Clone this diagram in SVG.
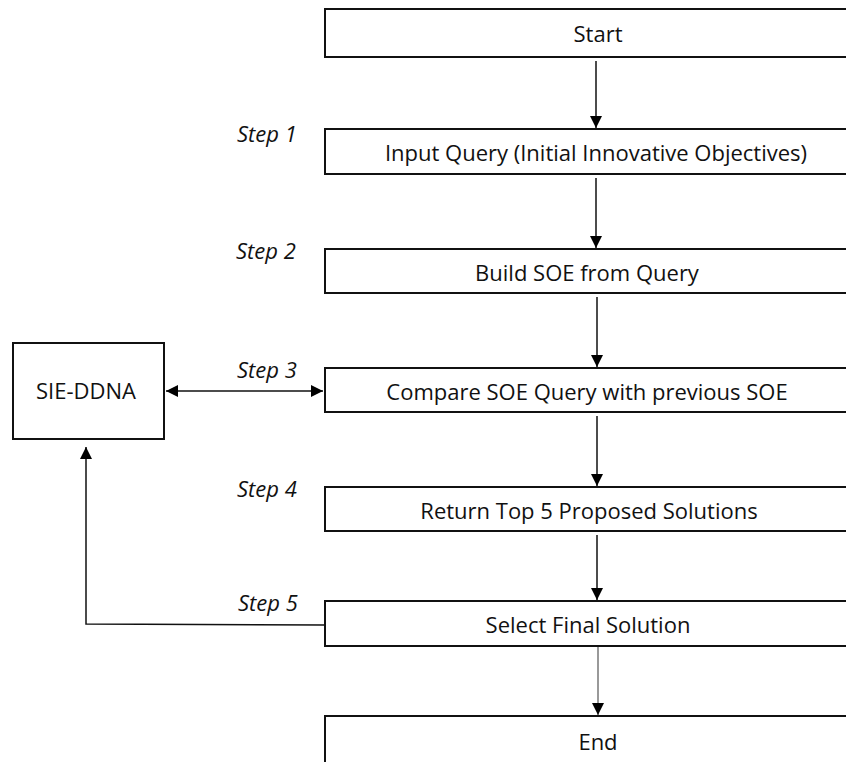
<svg xmlns="http://www.w3.org/2000/svg" width="846" height="762" viewBox="0 0 846 762">
<style>
.box{fill:#fff;stroke:#111;stroke-width:2}
.t{font-family:"Open Sans","Noto Sans",sans-serif;font-size:22px;fill:#111;text-anchor:middle}
.s{font-family:"Open Sans","Noto Sans",sans-serif;font-size:22px;font-style:italic;fill:#111}
.c{fill:none;stroke:#111;stroke-width:1.5}
</style>
<defs>
<marker id="ah2" viewBox="0 0 10 10" refX="10" refY="5" markerWidth="12" markerHeight="12" markerUnits="userSpaceOnUse" orient="auto-start-reverse">
<path d="M0,0 L10,5 L0,10 Z" fill="#000"/>
</marker>
</defs>
<rect width="846" height="762" fill="#fff"/>
<g id="connectors">
<line class="c" x1="596" y1="61" x2="596" y2="128" marker-end="url(#ah2)"/>
<line class="c" x1="596" y1="178" x2="596" y2="248" marker-end="url(#ah2)"/>
<line class="c" x1="597" y1="297" x2="597" y2="367" marker-end="url(#ah2)"/>
<line class="c" x1="166" y1="391" x2="323" y2="391" marker-start="url(#ah2)" marker-end="url(#ah2)"/>
<line class="c" x1="597" y1="416" x2="597" y2="486" marker-end="url(#ah2)"/>
<line class="c" x1="597" y1="535" x2="597" y2="600" marker-end="url(#ah2)"/>
<line x1="598" y1="647" x2="598" y2="715" stroke="#777" stroke-width="1.5" marker-end="url(#ah2)"/>
<polyline class="c" points="325,625 86,624 86,447" marker-end="url(#ah2)"/>
</g>
<g id="start">
<rect class="box" x="325" y="9" width="560" height="48"/>
<text class="t" x="598" y="42">Start</text>
</g>
<g id="step1">
<text class="s" x="237" y="142">Step 1</text>
<rect class="box" x="325" y="129" width="560" height="45"/>
<text class="t" x="596" y="161">Input Query (Initial Innovative Objectives)</text>
</g>
<g id="step2">
<text class="s" x="236" y="259">Step 2</text>
<rect class="box" x="325" y="249" width="560" height="44"/>
<text class="t" x="587" y="281">Build SOE from Query</text>
</g>
<g id="step3">
<text class="s" x="237" y="378">Step 3</text>
<rect class="box" x="325" y="368" width="560" height="44"/>
<text class="t" x="587" y="400">Compare SOE Query with previous SOE</text>
</g>
<g id="sie">
<rect class="box" x="13" y="343" width="151" height="96"/>
<text class="t" x="86" y="399">SIE-DDNA</text>
</g>
<g id="step4">
<text class="s" x="237" y="497">Step 4</text>
<rect class="box" x="325" y="487" width="560" height="44"/>
<text class="t" x="589" y="519">Return Top 5 Proposed Solutions</text>
</g>
<g id="step5">
<text class="s" x="238" y="611">Step 5</text>
<rect class="box" x="325" y="601" width="560" height="45"/>
<text class="t" x="588" y="633">Select Final Solution</text>
</g>
<g id="end">
<rect class="box" x="325" y="716" width="560" height="60"/>
<text class="t" x="598" y="750">End</text>
</g>
</svg>
